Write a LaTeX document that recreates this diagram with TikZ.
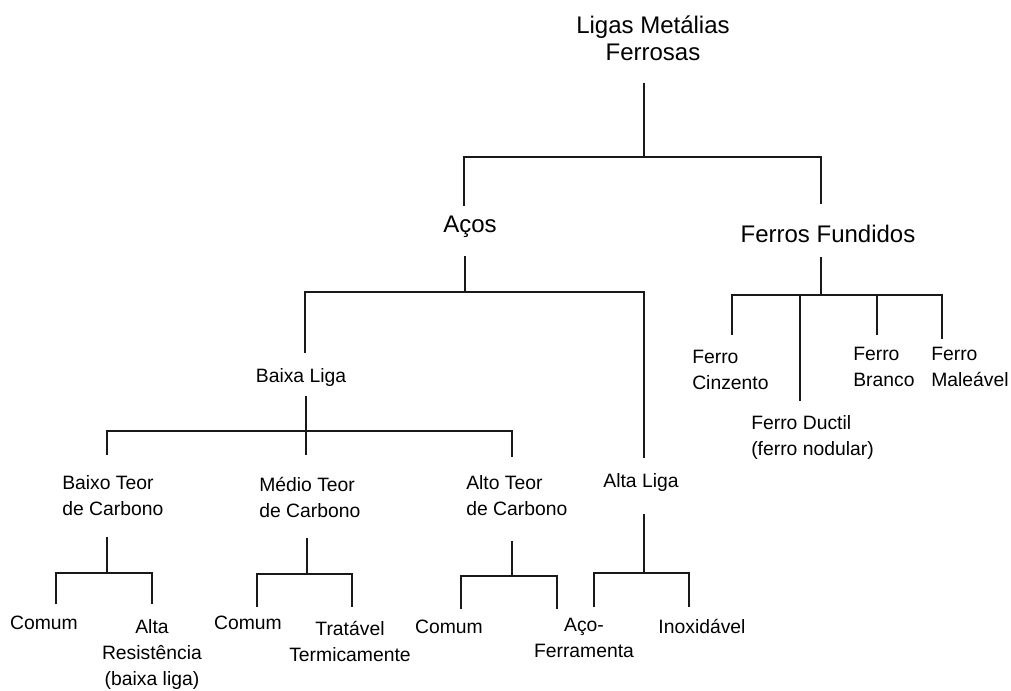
\documentclass[tikz,border=0pt]{standalone}
\usepackage{fontspec}
\setmainfont{Liberation Sans}
\begin{document}
\begin{tikzpicture}[x=0.75pt,y=-0.75pt,
  big/.style={inner sep=0pt,align=center,font=\fontsize{18}{20.25}\selectfont},
  lbl/.style={inner sep=0pt,font=\fontsize{14.5}{19.5}\selectfont},
  lblc/.style={lbl,align=center},
  lbll/.style={lbl,align=left,anchor=west},
  conn/.style={line width=1.4pt,draw=black!90}]
\useasboundingbox (0,0) rectangle (1011,691);

% nodes
\node[big] (root) at (653,38.5) {Ligas Metálias\\Ferrosas};
\node[big] (acos) at (470,227) {Aços};
\node[big] (ff) at (828,234) {Ferros Fundidos};
\node[lblc] (bl) at (301,378) {Baixa Liga};
\node[lblc] (al) at (641,483) {Alta Liga};
\node[lbll] (btc) at (62,496) {Baixo Teor\\de Carbono};
\node[lbll] (mtc) at (259,497) {Médio Teor\\de Carbono};
\node[lbll] (atc) at (466,496) {Alto Teor\\de Carbono};
\node[lbll] (fc) at (692,370) {Ferro\\Cinzento};
\node[lbll] (fd) at (751,437) {Ferro Ductil\\(ferro nodular)};
\node[lbll] (fb) at (853,367) {Ferro\\Branco};
\node[lbll] (fm) at (931,367) {Ferro\\Maleável};
\node[lblc] (c1) at (44,623) {Comum};
\node[lblc] (ar) at (152,655) {Alta\\Resistência\\(baixa liga)};
\node[lblc] (c2) at (248,623) {Comum};
\node[lblc] (tt) at (350,641) {Tratável\\Termicamente};
\node[lblc] (c3) at (449,627) {Comum};
\node[lblc] (af) at (584,638) {Aço-\\Ferramenta};
\node[lblc] (inox) at (702,626) {Inoxidável};

% connector end points
\coordinate (root-out) at (644,83);
\coordinate (root-bus) at (644,157);
\coordinate (acos-in) at (464,206);
\coordinate (ff-in) at (821,204);

\coordinate (acos-out) at (465,256);
\coordinate (acos-bus) at (465,292);
\coordinate (bl-in) at (305,353);
\coordinate (al-in) at (644,458);

\coordinate (ff-out) at (821,257);
\coordinate (ff-bus) at (821,295);
\coordinate (fc-in) at (732,335);
\coordinate (fd-in) at (800,401);
\coordinate (fb-in) at (877,335);
\coordinate (fm-in) at (942,339);

\coordinate (bl-out) at (306,396);
\coordinate (bl-bus) at (306,431);
\coordinate (btc-in) at (107,455);
\coordinate (mtc-in) at (306,455);
\coordinate (atc-in) at (512,457);

\coordinate (btc-out) at (107,537);
\coordinate (btc-bus) at (107,573);
\coordinate (c1-in) at (56,604);
\coordinate (ar-in) at (152,604);

\coordinate (mtc-out) at (307,538);
\coordinate (mtc-bus) at (307,574);
\coordinate (c2-in) at (257,607);
\coordinate (tt-in) at (352,607);

\coordinate (atc-out) at (512,541);
\coordinate (atc-bus) at (512,576);
\coordinate (c3-in) at (461,609);
\coordinate (af-in) at (557,609);

\coordinate (al-out) at (644,514);
\coordinate (al-bus) at (644,573);
\coordinate (af2-in) at (594,607);
\coordinate (inox-in) at (689,607);

% connectors
\draw[conn] (root-out) -- (root-bus);
\draw[conn] (acos-in) |- (root-bus) -| (ff-in);

\draw[conn] (acos-out) -- (acos-bus);
\draw[conn] (bl-in) |- (acos-bus) -| (al-in);

\draw[conn] (ff-out) -- (ff-bus);
\draw[conn] (fc-in) |- (ff-bus) -| (fm-in);
\draw[conn] (fd-in) -- (fd-in |- ff-bus);
\draw[conn] (fb-in) -- (fb-in |- ff-bus);

\draw[conn] (bl-out) -- (mtc-in);
\draw[conn] (btc-in) |- (bl-bus) -| (atc-in);

\draw[conn] (btc-out) -- (btc-bus);
\draw[conn] (c1-in) |- (btc-bus) -| (ar-in);

\draw[conn] (mtc-out) -- (mtc-bus);
\draw[conn] (c2-in) |- (mtc-bus) -| (tt-in);

\draw[conn] (atc-out) -- (atc-bus);
\draw[conn] (c3-in) |- (atc-bus) -| (af-in);

\draw[conn] (al-out) -- (al-bus);
\draw[conn] (af2-in) |- (al-bus) -| (inox-in);
\end{tikzpicture}
\end{document}
